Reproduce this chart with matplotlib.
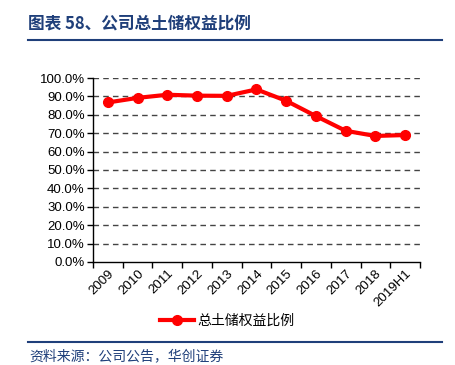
import matplotlib.pyplot as plt
from matplotlib.lines import Line2D

# 数据
years = ["2009", "2010", "2011", "2012", "2013", "2014", "2015", "2016", "2017", "2018", "2019H1"]
ratio = [86.7, 89.2, 90.9, 90.4, 90.3, 93.8, 87.6, 79.3, 71.3, 68.5, 69.0]
yticks = [0, 10, 20, 30, 40, 50, 60, 70, 80, 90, 100]

title = "图表 58、公司总土储权益比例"
series_name = "总土储权益比例"
source = "资料来源：公司公告，华创证券"

cjk = ["Noto Sans CJK SC", "DejaVu Sans"]
blue = "#1f3f7a"

fig = plt.figure(figsize=(4.55, 3.65), dpi=100)
ax = fig.add_axes([0.2044, 0.2822, 0.7186, 0.5041])

x = list(range(len(years)))
ax.plot(x, ratio, color="#ff0000", lw=3, marker="o", ms=7, zorder=3)

ax.set_xlim(-0.5, len(years) - 0.5)
ax.set_ylim(0, 100)
ax.set_yticks(yticks)
ax.set_yticklabels([f"{v:.1f}%" for v in yticks], family="Liberation Sans", fontsize=9.5)
ax.set_xticks(x)
ax.set_xticklabels(years, rotation=45, ha="right", rotation_mode="anchor",
                   family="Liberation Sans", fontsize=9.5)
ax.set_xticks([i - 0.5 for i in range(len(years) + 1)], minor=True)
ax.tick_params(axis="x", which="major", length=0, pad=4)
ax.tick_params(axis="x", which="minor", length=4, direction="out", width=1)
ax.tick_params(axis="y", length=4, direction="out", width=1, pad=2)

for v in yticks[1:]:
    ax.axhline(v, color="#444444", lw=1, ls=(0, (4, 3)), zorder=1)

for s in ["top", "right"]:
    ax.spines[s].set_visible(False)
for s in ["left", "bottom"]:
    ax.spines[s].set_linewidth(1)
    ax.spines[s].set_color("black")

# 图例
h = Line2D([], [], color="#ff0000", lw=3, marker="o", ms=7)
fig.legend([h], [series_name], loc="center", bbox_to_anchor=(0.5, 0.122),
           frameon=False, prop={"family": cjk, "size": 10}, handlelength=2.4,
           handletextpad=0.3)

# 标题和来源
fig.text(0.062, 0.932, title, family=cjk, fontsize=12, weight="bold", color=blue,
         va="center", ha="left")
fig.add_artist(Line2D([0.062, 0.972], [0.89, 0.89], color=blue, lw=1.5))
fig.add_artist(Line2D([0.062, 0.972], [0.063, 0.063], color=blue, lw=1.5))
fig.text(0.064, 0.025, source, family=cjk, fontsize=10, style="italic", color=blue,
         va="center", ha="left")

fig.savefig("out.png", dpi=100)
